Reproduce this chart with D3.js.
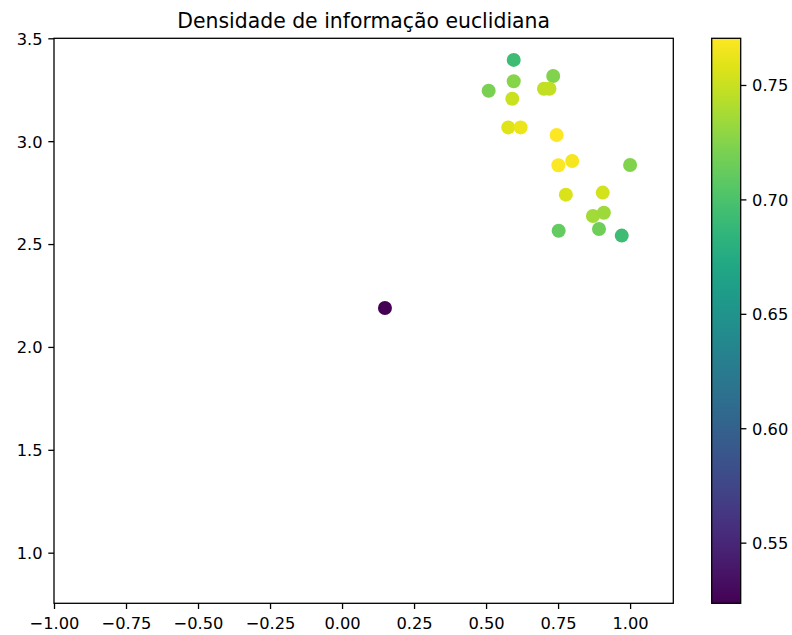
<!DOCTYPE html>
<html>
<head>
<meta charset="utf-8">
<script src="https://cdn.jsdelivr.net/npm/d3@7"></script>
<style>
  html, body { margin: 0; padding: 0; background: #fff; }
  svg { display: block; font-family: "DejaVu Sans", sans-serif; }
</style>
</head>
<body>
<svg id="chart" width="792" height="635"></svg>
<script>
// Point coordinates and the density value that colours each point
const xs = [0.596, 0.733, 0.596, 0.509, 0.701, 0.720, 0.591, 0.577, 0.620, 0.745,
            0.751, 0.799, 1.000, 0.777, 0.905, 0.871, 0.909, 0.752, 0.892, 0.971, 0.149];
const ys = [3.395, 3.317, 3.291, 3.245, 3.255, 3.255, 3.206, 3.067, 3.067, 3.030,
            2.883, 2.904, 2.884, 2.740, 2.750, 2.636, 2.652, 2.565, 2.573, 2.541, 2.189];
const density = [0.694, 0.724, 0.726, 0.721, 0.748, 0.748, 0.751, 0.758, 0.763, 0.7704,
                 0.769, 0.767, 0.724, 0.756, 0.754, 0.736, 0.734, 0.711, 0.716, 0.694, 0.5235];

const xTicks = [-1.00, -0.75, -0.50, -0.25, 0.00, 0.25, 0.50, 0.75, 1.00];
const yTicks = [1.0, 1.5, 2.0, 2.5, 3.0, 3.5];
const cbTicks = [0.55, 0.60, 0.65, 0.70, 0.75];
const xLimits = [-1.0, 1.15];
const yLimits = [0.754, 3.5];
const titleText = "Densidade de informação euclidiana";

const svg = d3.select("#chart");
const plot = { left: 54, right: 673.3, top: 38.3, bottom: 603.3 };
const cb = { left: 711.7, right: 740.7, top: 38.3, bottom: 603.3 };
const fontSize = 16.25, tickLen = 5.7, tickPad = 5.7, lw = 1.3;

const x = d3.scaleLinear().domain(xLimits).range([plot.left, plot.right]);
const y = d3.scaleLinear().domain(yLimits).range([plot.bottom, plot.top]);
const vmin = d3.min(density), vmax = d3.max(density);
const color = d3.scaleSequential(d3.interpolateViridis).domain([vmin, vmax]);

// Scatter points
svg.append("g").selectAll("circle")
  .data(xs.map((v, i) => ({ x: v, y: ys[i], d: density[i] })))
  .join("circle")
  .attr("cx", d => x(d.x))
  .attr("cy", d => y(d.y))
  .attr("r", 7.0)
  .attr("fill", d => color(d.d));

// Axes
function styleAxis(g) {
  g.selectAll(".domain").remove();
  g.selectAll(".tick line").attr("stroke", "#000").attr("stroke-width", lw);
  g.selectAll(".tick text").attr("fill", "#000").attr("font-size", fontSize)
    .attr("font-family", "DejaVu Sans");
}
const fmt2 = d3.format(".2f"), fmt1 = d3.format(".1f");
const xg = svg.append("g").attr("transform", `translate(0,${plot.bottom})`)
  .call(d3.axisBottom(x).tickValues(xTicks).tickFormat(d => fmt2(d).replace("-", "\u2212"))
    .tickSizeOuter(0).tickSizeInner(tickLen).tickPadding(tickPad));
styleAxis(xg);
xg.selectAll(".tick text").attr("dy", null).attr("y", 25.5);

const yg = svg.append("g").attr("transform", `translate(${plot.left},0)`)
  .call(d3.axisLeft(y).tickValues(yTicks).tickFormat(fmt1)
    .tickSizeOuter(0).tickSizeInner(tickLen).tickPadding(tickPad));
styleAxis(yg);
yg.selectAll(".tick text").attr("dy", "0.36em");

// Axes frame
svg.append("rect")
  .attr("x", plot.left).attr("y", plot.top)
  .attr("width", plot.right - plot.left).attr("height", plot.bottom - plot.top)
  .attr("fill", "none").attr("stroke", "#000").attr("stroke-width", lw);

// Title
svg.append("text")
  .attr("x", (plot.left + plot.right) / 2).attr("y", 27.8)
  .attr("text-anchor", "middle").attr("font-size", 20.4).attr("fill", "#000")
  .text(titleText);

// Colour bar
const cbScale = d3.scaleLinear().domain([vmin, vmax]).range([cb.bottom, cb.top]);
const defs = svg.append("defs");
const grad = defs.append("linearGradient").attr("id", "viridisGrad")
  .attr("x1", 0).attr("y1", 1).attr("x2", 0).attr("y2", 0);
d3.range(0, 1.0001, 0.05).forEach(t => {
  grad.append("stop").attr("offset", t).attr("stop-color", d3.interpolateViridis(t));
});
svg.append("rect")
  .attr("x", cb.left).attr("y", cb.top)
  .attr("width", cb.right - cb.left).attr("height", cb.bottom - cb.top)
  .attr("fill", "url(#viridisGrad)")
  .attr("stroke", "#000").attr("stroke-width", lw);

const cg = svg.append("g").attr("transform", `translate(${cb.right},0)`)
  .call(d3.axisRight(cbScale).tickValues(cbTicks).tickFormat(fmt2)
    .tickSizeOuter(0).tickSizeInner(tickLen).tickPadding(tickPad));
styleAxis(cg);
cg.selectAll(".tick text").attr("dy", "0.36em");
</script>
</body>
</html>
